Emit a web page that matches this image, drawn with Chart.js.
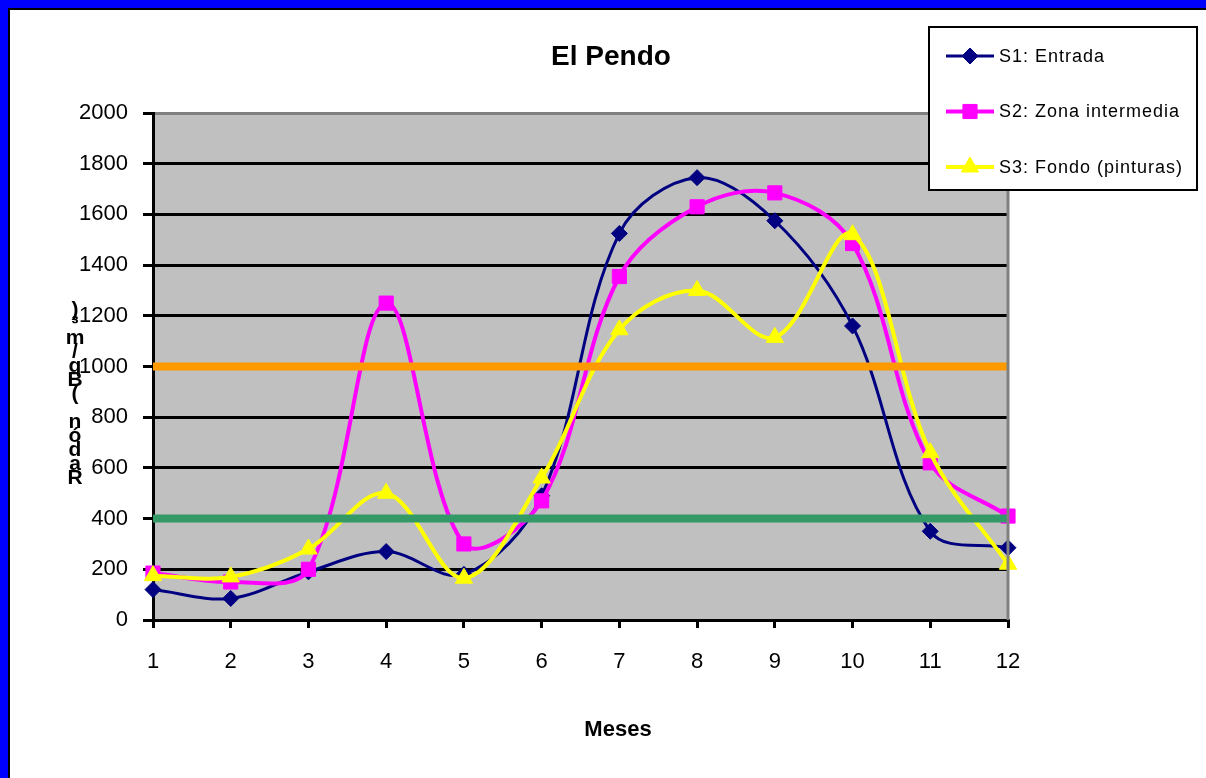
<!DOCTYPE html>
<html>
<head>
<meta charset="utf-8">
<script src="https://cdn.jsdelivr.net/npm/chart.js@4.4.1/dist/chart.umd.min.js"></script>
<style>
  html, body { margin:0; padding:0; background:#fff; }
  #wrap { width:1206px; height:778px; }
</style>
</head>
<body>
<div id="wrap"><canvas id="chart" width="1206" height="778"></canvas></div>
<script>
// Data
const months = [1,2,3,4,5,6,7,8,9,10,11,12];
const s1Entrada = [120,85,190,270,180,490,1525,1745,1575,1160,350,285];
const s2Intermedia = [185,150,200,1250,300,470,1355,1630,1685,1485,620,410];
const s3Fondo = [175,170,280,500,165,560,1145,1300,1115,1520,660,220];
const limitHigh = 1000;
const limitLow = 400;
const yTicks = [0,200,400,600,800,1000,1200,1400,1600,1800,2000];

const FONT = "'Liberation Sans', Arial, sans-serif";
const pts = arr => arr.map((v,i)=>({x:months[i], y:v}));
const flat = v => [{x:months[0], y:v},{x:months[months.length-1], y:v}];

// frame, grey plot background, plot border
const backdrop = {
  id:'backdrop',
  beforeDraw(chart){
    const {ctx, chartArea:a, width, height} = chart;
    ctx.save();
    ctx.fillStyle='#fff'; ctx.fillRect(0,0,width,height);
    ctx.fillStyle='#0000ff'; ctx.fillRect(0,0,width,8); ctx.fillRect(0,0,8,height);
    ctx.fillStyle='#000'; ctx.fillRect(8,8,width-8,2); ctx.fillRect(8,8,2,height-8);
    ctx.fillStyle='#c0c0c0'; ctx.fillRect(a.left,a.top,a.right-a.left,a.bottom-a.top);
    ctx.restore();
  },
  afterDatasetsDraw(chart){
    const {ctx, chartArea:a} = chart;
    ctx.save();
    ctx.strokeStyle='#808080'; ctx.lineWidth=3;
    ctx.beginPath(); ctx.moveTo(a.right,a.top); ctx.lineTo(a.right,a.bottom); ctx.stroke();
    ctx.restore();
  }
};

// titles + legend box
const labels = {
  id:'labels',
  afterDraw(chart){
    const {ctx} = chart;
    ctx.save();
    ctx.fillStyle='#000';
    ctx.textAlign='center'; ctx.textBaseline='middle';
    ctx.font='bold 28px '+FONT;
    ctx.fillText('El Pendo', 611, 57);
    ctx.font='bold 22px '+FONT;
    ctx.fillText('Meses', 618, 730);
    // y title, characters stacked like the original
    ctx.font='bold 21px '+FONT;
    const yt = Array.from('Radón (Bq/m³)');
    let y = 478;
    yt.forEach(c=>{ if(c!==' ') ctx.fillText(c, 75, y); y -= 14; });
    // legend
    ctx.fillStyle='#fff'; ctx.fillRect(929,27,268,163);
    ctx.strokeStyle='#000'; ctx.lineWidth=2; ctx.strokeRect(929,27,268,163);
    const items = chart.data.datasets.filter(d=>d.label);
    items.forEach((d,i)=>{
      const cy = 56 + i*55.5;
      ctx.strokeStyle=d.borderColor; ctx.lineWidth=d.borderWidth;
      ctx.beginPath(); ctx.moveTo(946,cy); ctx.lineTo(994,cy); ctx.stroke();
      ctx.fillStyle=d.borderColor; ctx.lineWidth=1;
      Chart.helpers.drawPoint(ctx,{pointStyle:d.pointStyle, radius:d.pointRadius, borderWidth:1}, 970, cy);
      ctx.fillStyle='#000'; ctx.textAlign='left'; ctx.font='18px '+FONT;
      ctx.letterSpacing='1px';
      ctx.fillText(d.label, 999, cy + 1);
      ctx.letterSpacing='0px';
    });
    ctx.restore();
  }
};

function series(label, data, color, style, r, w, order){
  return {label, data:pts(data), borderColor:color, backgroundColor:color,
    pointBackgroundColor:color, pointBorderColor:color, pointStyle:style,
    pointRadius:r, pointBorderWidth:1, borderWidth:w, tension:0.35, order, clip:false};
}
function limit(v, color){
  return {label:'', data:flat(v), borderColor:color, borderWidth:8, pointRadius:0,
    tension:0, order:0, clip:false, borderCapStyle:'butt'};
}

new Chart(document.getElementById('chart'), {
  type:'line',
  data:{ datasets:[
    series('S1: Entrada', s1Entrada, '#000080', 'rectRot', 8, 3, 3),
    series('S2: Zona intermedia', s2Intermedia, '#ff00ff', 'rect', 10, 4, 2),
    series('S3: Fondo (pinturas)', s3Fondo, '#ffff00', 'triangle', 10, 4, 1),
    limit(limitHigh, '#ff9900'),
    limit(limitLow, '#339966')
  ]},
  options:{
    responsive:false, animation:false, devicePixelRatio:1,
    layout:{ padding:{ top:113, right:198, left:0, bottom:0 } },
    plugins:{ legend:{display:false}, title:{display:false}, tooltip:{enabled:false} },
    scales:{
      x:{
        type:'linear', min:1, max:12,
        afterFit(s){ s.height = 158; },
        afterBuildTicks(s){ s.ticks = months.map(v=>({value:v})); },
        ticks:{ color:'#000', font:{family:FONT, size:22}, padding:21, callback:v=>String(v) },
        grid:{ drawOnChartArea:false, drawTicks:true, tickLength:8, color:'#000', lineWidth:3 },
        border:{ color:'#000', width:3 }
      },
      y:{
        min:0, max:2000,
        afterFit(s){ s.width = 153; },
        afterBuildTicks(s){ s.ticks = yTicks.map(v=>({value:v})); },
        ticks:{ color:'#000', font:{family:FONT, size:22}, padding:15, callback:v=>String(v) },
        grid:{ color:c=> c.tick && c.tick.value===2000 ? '#808080' : '#000', tickColor:'#000',
               lineWidth:3, tickLength:10 },
        border:{ color:'#000', width:3 }
      }
    }
  },
  plugins:[backdrop, labels]
});
</script>
</body>
</html>
